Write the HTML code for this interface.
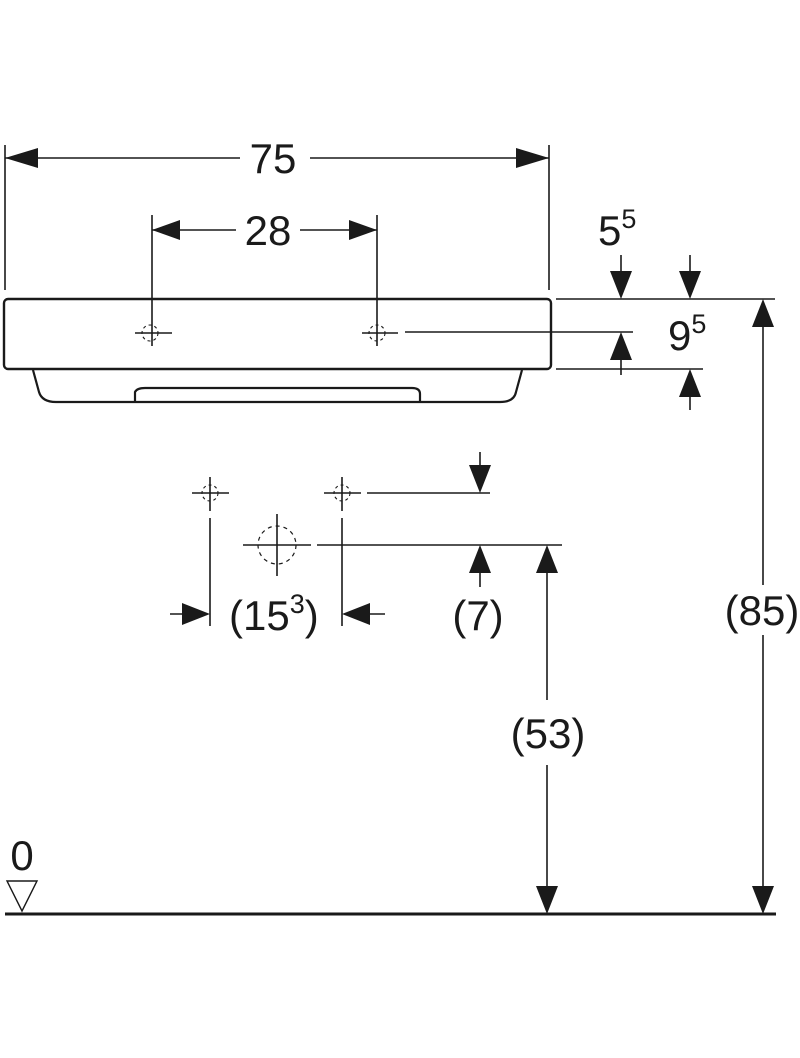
<!DOCTYPE html>
<html><head><style>html,body{margin:0;padding:0;background:#fff}svg{display:block}text{font-family:"Liberation Sans",sans-serif;fill:#1a1a1a}</style></head>
<body>
<svg width="800" height="1058" viewBox="0 0 800 1058" xmlns="http://www.w3.org/2000/svg">
<g stroke="#1a1a1a" stroke-width="1.6" fill="none">
<rect x="4" y="299" width="547" height="70" rx="4" stroke-width="2.4"/>
<path d="M33 370 L39 392 Q42 402 56 402 L500 402 Q514 402 516 392 L522 370" stroke-width="2.2"/>
<path d="M135 402 L135 392 Q137 388 145 388 L412 388 Q420 388 420 394 L420 402" stroke-width="2.2"/>
<line x1="5" y1="145" x2="5" y2="290"/><line x1="549" y1="145" x2="549" y2="290"/>
<line x1="5" y1="158" x2="240" y2="158"/><line x1="310" y1="158" x2="549" y2="158"/>
<line x1="152" y1="215" x2="152" y2="346"/><line x1="377" y1="215" x2="377" y2="346"/>
<line x1="152" y1="230" x2="236" y2="230"/><line x1="300" y1="230" x2="377" y2="230"/>
<line x1="135" y1="333" x2="172" y2="333"/><line x1="362" y1="333" x2="398" y2="333"/>
<line x1="405" y1="332" x2="633" y2="332"/>
<line x1="556" y1="299" x2="775" y2="299"/>
<line x1="556" y1="369" x2="703" y2="369"/>
<line x1="621" y1="255" x2="621" y2="280"/><line x1="690" y1="255" x2="690" y2="280"/>
<line x1="621" y1="350" x2="621" y2="375"/><line x1="690" y1="388" x2="690" y2="410"/>
<line x1="763" y1="318" x2="763" y2="585"/><line x1="763" y1="635" x2="763" y2="895"/>
<line x1="192" y1="493" x2="229" y2="493"/><line x1="324" y1="493" x2="361" y2="493"/>
<line x1="210" y1="477" x2="210" y2="511"/><line x1="342" y1="477" x2="342" y2="511"/>
<line x1="367" y1="493" x2="490" y2="493"/>
<line x1="480" y1="452" x2="480" y2="475"/>
<line x1="243" y1="545" x2="311" y2="545"/><line x1="277" y1="514" x2="277" y2="576"/>
<circle cx="277" cy="545" r="19" stroke-dasharray="4 4" stroke-width="1.2"/>
<line x1="317" y1="545" x2="562" y2="545"/>
<line x1="480" y1="564" x2="480" y2="587"/>
<line x1="210" y1="518" x2="210" y2="626"/><line x1="342" y1="518" x2="342" y2="626"/>
<line x1="170" y1="614" x2="192" y2="614"/><line x1="360" y1="614" x2="385" y2="614"/>
<line x1="547" y1="564" x2="547" y2="700"/><line x1="547" y1="765" x2="547" y2="895"/>
<line x1="5" y1="914" x2="776" y2="914" stroke-width="3"/>
<path d="M7 881 L37 881 L22 911 Z" stroke-width="1.4"/>
</g>
<g stroke="#1a1a1a" stroke-width="1.1" fill="none" stroke-dasharray="3 3">
<circle cx="150" cy="333" r="8"/><circle cx="377" cy="333" r="8"/>
<circle cx="210" cy="493" r="8"/><circle cx="342" cy="493" r="8"/>
</g>
<g fill="#1a1a1a">
<path d="M5 158 L38 148 L38 168 Z"/><path d="M549 158 L516 148 L516 168 Z"/>
<path d="M152 230 L180 220 L180 240 Z"/><path d="M377 230 L349 220 L349 240 Z"/>
<path d="M621 299 L610 271 L632 271 Z"/><path d="M690 299 L679 271 L701 271 Z"/>
<path d="M621 332 L610 360 L632 360 Z"/><path d="M690 369 L679 397 L701 397 Z"/>
<path d="M763 299 L752 327 L774 327 Z"/><path d="M763 914 L752 886 L774 886 Z"/>
<path d="M480 493 L469 465 L491 465 Z"/><path d="M480 545 L469 573 L491 573 Z"/>
<path d="M547 545 L536 573 L558 573 Z"/><path d="M547 914 L536 886 L558 886 Z"/>
<path d="M210 614 L182 603 L182 625 Z"/><path d="M342 614 L370 603 L370 625 Z"/>
</g>
<g font-size="42">
<text x="273" y="173" text-anchor="middle">75</text>
<text x="268" y="245" text-anchor="middle">28</text>
<text x="598" y="245">5<tspan font-size="27" dy="-17">5</tspan></text>
<text x="668" y="350">9<tspan font-size="27" dy="-17">5</tspan></text>
<text x="762" y="625" text-anchor="middle">(85)</text>
<text x="478" y="630" text-anchor="middle">(7)</text>
<text x="229" y="630">(15<tspan font-size="27" dy="-17">3</tspan><tspan dy="17">)</tspan></text>
<text x="548" y="748" text-anchor="middle">(53)</text>
<text x="22" y="870" text-anchor="middle">0</text>
</g>
</svg>
</body></html>
